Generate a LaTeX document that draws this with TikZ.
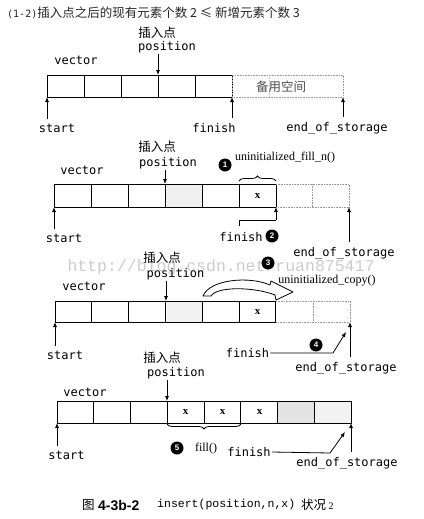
\documentclass[tikz,border=0pt]{standalone}
\usepackage{fontspec}
\setmainfont{Liberation Serif}
\newfontfamily\cjk{Noto Sans CJK SC}
\newfontfamily\lblf{DejaVu Sans Mono}
\newfontfamily\courf{Liberation Mono}
\newfontfamily\hvf{Liberation Sans}
\usetikzlibrary{arrows.meta,decorations.pathreplacing}
\begin{document}
\begin{tikzpicture}[x=1pt,y=-1pt,
 cell/.style={draw=black,line width=0.8pt},
 dcell/.style={draw=black!40,line width=0.6pt,densely dotted},
 arr/.style={line width=0.8pt,-{Latex[length=5pt,width=4pt]}},
 lbl/.style={font=\lblf\fontsize{12}{12}\selectfont,inner sep=1pt},
 cn/.style={font=\cjk\fontsize{12.5}{13}\selectfont,inner sep=1pt},
 fn/.style={font=\fontsize{12}{12}\selectfont,inner sep=1pt},
 xv/.style={font=\bfseries\fontsize{11}{11}\selectfont,inner sep=0pt},
 bul/.style={circle,fill=black,inner sep=0pt,minimum size=13pt,text=white,font=\hvf\bfseries\fontsize{8}{8}\selectfont},
 brace/.style={decorate,decoration={brace,amplitude=5pt},line width=0.8pt}]
\useasboundingbox (0,0) rectangle (423,519);

% ---------- title
\node[anchor=west,inner sep=0pt,text=black!85] (title) at (7,13)
 {{\lblf\fontsize{10}{10}\selectfont (1-2)}{\cjk\fontsize{12.5}{13}\selectfont 插入点之后的现有元素个数 2 ≤ 新增元素个数 3}};

% ---------- panel 1
\foreach \i in {0,...,4}
  \draw[cell] ({47+37*\i},75) rectangle ({84+37*\i},97);
\draw[dcell] (232,75) rectangle (343,97);
\draw[dcell,draw=black!25] (269,75) -- (269,97);
\node[cn,text=black!70] (spare) at (281,87) {备用空间};
\node[lbl] (vec1) at (76,60) {vector};
\node[cn] (ins1) at (157,33) {插入点};
\node[lbl] (pos1) at (167,47) {position};
\coordinate (p1) at (158,75);
\draw[arr] (pos1.south -| p1) -- (p1);
\node[lbl] (st1l) at (57,128) {start};
\coordinate (st1) at (47,97);
\draw[arr] ([yshift=4pt]st1l.north -| st1) -- (st1);
\node[lbl] (fin1) at (214,128) {finish};
\coordinate (fi1) at (232,97);
\draw[arr] ([yshift=4pt]fin1.north -| fi1) -- (fi1);
\node[lbl] (eos1) at (337,128) {end\_of\_storage};
\coordinate (e1) at (343,97);
\draw[arr] ([yshift=4pt]eos1.north -| e1) -- (e1);

% ---------- panel 2
\fill[black!6] (164.5,184) rectangle (201.5,207);
\foreach \i in {0,...,5}
  \draw[cell] ({54+37*\i},184) rectangle ({91+37*\i},207);
\draw[dcell] (276,184) -- (349,184) -- (349,207) -- (276,207);
\draw[dcell] (312.5,184) -- (312.5,207);
\node[xv] (x2) at (257.5,196) {x};
\node[lbl] (vec2) at (82,170) {vector};
\node[cn] (ins2) at (157,147) {插入点};
\node[lbl] (pos2) at (168,163) {position};
\coordinate (p2) at (165,184);
\draw[arr] (pos2.south -| p2) -- (p2);
\node[bul] (b1) at (225,165) {1};
\node[fn] (ufn) at (285,158) {uninitialized\_fill\_n()};
\draw[brace] (239,181) -- (276,181);
\node[lbl] (st2l) at (64,238) {start};
\coordinate (st2) at (54,207);
\draw[arr] ([yshift=4pt]st2l.north -| st2) -- (st2);
\node[lbl] (fin2) at (241,237) {finish};
\node[bul] (b2) at (272,236) {2};
\coordinate (f2a) at (239,226);
\coordinate (fi2) at (276,207);
\draw[line width=0.8pt] (f2a) -- (239,220) -- (276,220);
\draw[arr] (276,220) -- (fi2);
\node[lbl] (eos2) at (344,253) {end\_of\_storage};
\coordinate (e2) at (349,207);
\draw[arr] ([yshift=4pt]eos2.north -| e2) -- (e2);

% ---------- panel 3
\fill[black!5] (166.5,301) rectangle (203,322);
\foreach \i in {0,...,5}
  \draw[cell] ({55+36.8*\i},301) rectangle ({91.8+36.8*\i},322);
\draw[dcell] (276,301) -- (350,301) -- (350,322) -- (276,322);
\draw[dcell] (313,301) -- (313,322);
\node[xv] (x3) at (257.5,312) {x};
\node[lbl] (vec3) at (84,286) {vector};
\node[cn] (ins3) at (162,258) {插入点};
\node[lbl] (pos3) at (175.5,274) {position};
\coordinate (p3) at (166,301);
\draw[arr] (pos3.south -| p3) -- (p3);
\node[bul] (b3) at (268,263) {3};
\node[fn] (uc) at (327,281) {uninitialized\_copy()};
\draw[fill=white,line width=0.8pt,line join=round]
  (203,296) .. controls (210,279) and (250,276) .. (270,285)
  -- (271,281) -- (293,292) -- (276,300) -- (275,295)
  .. controls (255,287) and (217,286) .. (211,296) -- cycle;
\node[lbl] (st3l) at (65,355) {start};
\coordinate (st3) at (55,322);
\draw[arr] ([yshift=4pt]st3l.north -| st3) -- (st3);
\node[lbl] (fin3) at (247.5,353) {finish};
\coordinate (f3a) at (333,353);
\coordinate (f3b) at (346,332);
\draw[arr] (fin3.east) -- (f3a) -- (f3b);
\node[bul] (b4) at (316,345) {4};
\node[lbl] (eos3) at (346,368) {end\_of\_storage};
\coordinate (e3) at (350,322);
\draw[arr] ([yshift=4pt]eos3.north -| e3) -- (e3);

% ---------- panel 4
\fill[black!11] (278,401) rectangle (314.5,423);
\fill[black!5] (314.5,401) rectangle (351,423);
\foreach \i in {0,...,7}
  \draw[cell] ({57+36.75*\i},401) rectangle ({93.75+36.75*\i},423);
\node[xv] (x4a) at (185.5,412) {x};
\node[xv] (x4b) at (222.5,412) {x};
\node[xv] (x4c) at (259.5,412) {x};
\node[lbl] (vec4) at (85,392) {vector};
\node[cn] (ins4) at (162,358) {插入点};
\node[lbl] (pos4) at (176,373) {position};
\coordinate (p4) at (167,401);
\draw[arr] (pos4.south -| p4) -- (p4);
\draw[brace] (241,424) -- (167,424);
\node[bul] (b5) at (177,448) {5};
\node[fn] (fl) at (206,449) {fill()};
\node[lbl] (st4l) at (66.5,455) {start};
\coordinate (st4) at (57,423);
\draw[arr] ([yshift=4pt]st4l.north -| st4) -- (st4);
\node[lbl] (fin4) at (249,452) {finish};
\coordinate (f4a) at (330,453);
\coordinate (f4b) at (345,432);
\draw[arr] (fin4.east) -- (f4a) -- (f4b);
\node[lbl] (eos4) at (347,463) {end\_of\_storage};
\coordinate (e4) at (351,423);
\draw[arr] ([yshift=4pt]eos4.north -| e4) -- (e4);

% ---------- watermark
\node[font=\courf\fontsize{16.5}{17}\selectfont,text=black,opacity=0.2] (wm) at (221,267) {http://blog.csdn.net/ruan875417};

% ---------- caption
\node[cn,anchor=west] (cap1) at (81,505) {图};
\node[font=\hvf\bfseries\fontsize{14}{14}\selectfont,anchor=west,inner sep=0pt] (cap2) at (98,505) {4-3b-2};
\node[font=\courf\fontsize{11.5}{12}\selectfont,anchor=west,inner sep=0pt] (cap3) at (157,505) {insert(position,n,x)};
\node[anchor=west,inner sep=0pt] (cap4) at (301,505) {{\cjk\fontsize{12.5}{13}\selectfont 状况} 2};
\end{tikzpicture}
\end{document}
